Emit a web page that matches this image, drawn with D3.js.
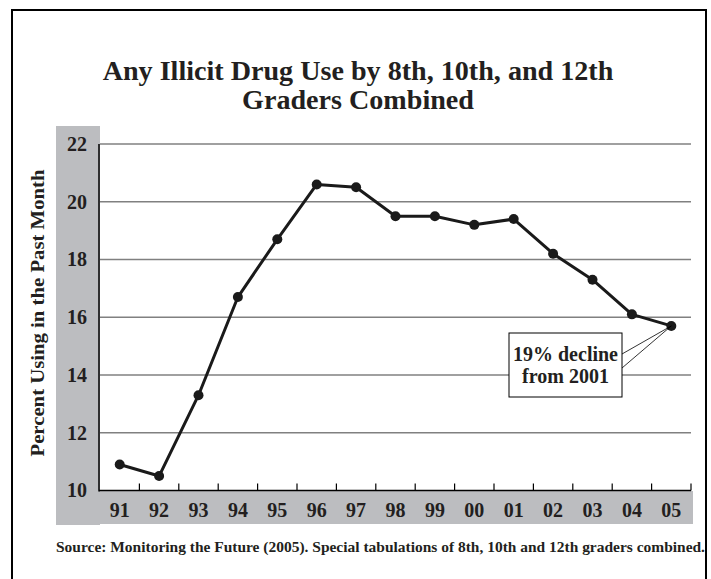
<!DOCTYPE html>
<html>
<head>
<meta charset="utf-8">
<script src="https://cdn.jsdelivr.net/npm/d3@7"></script>
<style>
  body { margin: 0; background: #fff; }
  svg text { font-family: "Liberation Serif", "Times New Roman", serif; font-weight: bold; fill: #231f20; }
</style>
</head>
<body>
<div id="chart"></div>
<script>
// values
const years = ["91", "92", "93", "94", "95", "96", "97", "98", "99", "00", "01", "02", "03", "04", "05"];
const percentUsing = [10.9, 10.5, 13.3, 16.7, 18.7, 20.6, 20.5, 19.5, 19.5, 19.2, 19.4, 18.2, 17.3, 16.1, 15.7];
const yTicks = [10, 12, 14, 16, 18, 20, 22];
const titleLines = ["Any Illicit Drug Use by 8th, 10th, and 12th", "Graders Combined"];
const yLabel = "Percent Using in the Past Month";
const calloutLines = ["19% decline", "from 2001"];
const sourceNote = "Source: Monitoring the Future (2005). Special tabulations of 8th, 10th and 12th graders combined.";

const W = 711, H = 579;
const margin = { top: 144, right: 20, bottom: 88, left: 100 };
const width = 691 - margin.left;
const height = 490.5 - margin.top;
const gray = "#bcbdc0";

const svg = d3.select("#chart").append("svg")
    .attr("width", W)
    .attr("height", H);

// outer frame (open at the bottom, runs off the page)
svg.append("path")
    .attr("d", `M12,${H + 5} V10 H706 V${H + 5}`)
    .attr("fill", "none")
    .attr("stroke", "#000")
    .attr("stroke-width", 2);

// title
const title = svg.append("g");
title.selectAll("text")
    .data(titleLines)
    .enter()
    .append("text")
    .attr("x", 358)
    .attr("y", (d, i) => 80 + i * 29)
    .attr("text-anchor", "middle")
    .attr("font-size", 28)
    .text(d => d);
// fit first line to printed width
const natural = title.select("text").node().getComputedTextLength();
title.selectAll("text").attr("font-size", 28 * 511 / natural);

// gray label strips
svg.append("rect").attr("x", 56).attr("y", 126).attr("width", 44).attr("height", 399).attr("fill", gray);
svg.append("rect").attr("x", 99).attr("y", 491).attr("width", 594).attr("height", 33).attr("fill", gray);

const g = svg.append("g")
    .attr("transform", `translate(${margin.left},${margin.top})`);

const x = d3.scaleBand()
    .domain(years)
    .range([0, width]);

const y = d3.scaleLinear()
    .domain([10, 22])
    .range([height, 0]);

// white plot area
g.append("rect").attr("width", width).attr("height", height).attr("fill", "#fff");

// gridlines
g.append("g")
    .selectAll("line")
    .data(yTicks.filter(d => d > 10))
    .enter()
    .append("line")
    .attr("x1", 0)
    .attr("x2", width)
    .attr("y1", d => y(d))
    .attr("y2", d => y(d))
    .attr("stroke", "#808080")
    .attr("stroke-width", 1.5);

// y axis labels
const yAxis = g.append("g")
    .call(d3.axisLeft(y).tickValues(yTicks).tickSize(0).tickPadding(0));
yAxis.select(".domain").remove();
yAxis.selectAll("text")
    .attr("x", -23)
    .attr("text-anchor", "middle")
    .attr("font-size", 20)
    .attr("font-family", null);

// x axis labels
const xAxis = g.append("g")
    .attr("transform", `translate(0,${height})`)
    .call(d3.axisBottom(x).tickSize(0).tickPadding(0));
xAxis.select(".domain").remove();
xAxis.selectAll("text")
    .attr("y", 19)
    .attr("dy", "0.35em")
    .attr("font-size", 20)
    .attr("font-family", null);

// axis lines and band ticks
g.append("line").attr("x1", -1).attr("x2", -1).attr("y1", 0).attr("y2", height + 1)
    .attr("stroke", "#000").attr("stroke-width", 1.5);
g.append("line").attr("x1", -1).attr("x2", width).attr("y1", height).attr("y2", height)
    .attr("stroke", "#000").attr("stroke-width", 1.5);
g.append("g")
    .selectAll("line")
    .data(years)
    .enter()
    .append("line")
    .attr("x1", d => x(d) + x.bandwidth())
    .attr("x2", d => x(d) + x.bandwidth())
    .attr("y1", height)
    .attr("y2", height - 7)
    .attr("stroke", "#000")
    .attr("stroke-width", 1.2);

// y axis title
svg.append("text")
    .attr("transform", "translate(38,313) rotate(-90)")
    .attr("text-anchor", "middle")
    .attr("dy", "0.35em")
    .attr("font-size", 18)
    .attr("textLength", 287)
    .attr("lengthAdjust", "spacingAndGlyphs")
    .text(yLabel);

// the series
const data = years.map((d, i) => ({ year: d, value: percentUsing[i] }));
const cx = d => x(d.year) + x.bandwidth() / 2;

g.append("path")
    .datum(data)
    .attr("fill", "none")
    .attr("stroke", "#1a1a1a")
    .attr("stroke-width", 3)
    .attr("stroke-linejoin", "round")
    .attr("d", d3.line().x(cx).y(d => y(d.value)));

g.selectAll("circle")
    .data(data)
    .enter()
    .append("circle")
    .attr("cx", cx)
    .attr("cy", d => y(d.value))
    .attr("r", 5)
    .attr("fill", "#1a1a1a");

// callout pointing at the last point
const last = data[data.length - 1];
const box = { x: 409, y: 189, w: 113, h: 64 };
g.append("line")
    .attr("x1", box.x + box.w).attr("y1", box.y + 21)
    .attr("x2", cx(last)).attr("y2", y(last.value))
    .attr("stroke", "#000").attr("stroke-width", 0.8);
g.append("line")
    .attr("x1", box.x + box.w).attr("y1", box.y + 35)
    .attr("x2", cx(last)).attr("y2", y(last.value))
    .attr("stroke", "#000").attr("stroke-width", 0.8);
g.append("rect")
    .attr("x", box.x).attr("y", box.y)
    .attr("width", box.w).attr("height", box.h)
    .attr("fill", "#fff")
    .attr("stroke", "#000")
    .attr("stroke-width", 1);
g.selectAll(".callout")
    .data(calloutLines)
    .enter()
    .append("text")
    .attr("class", "callout")
    .attr("x", box.x + box.w / 2)
    .attr("y", (d, i) => box.y + 28 + i * 22)
    .attr("text-anchor", "middle")
    .attr("font-size", 20)
    .text(d => d);

// source note
svg.append("text")
    .attr("x", 56)
    .attr("y", 552)
    .attr("font-size", 14.5)
    .attr("textLength", 649)
    .attr("lengthAdjust", "spacingAndGlyphs")
    .text(sourceNote);
</script>
</body>
</html>
